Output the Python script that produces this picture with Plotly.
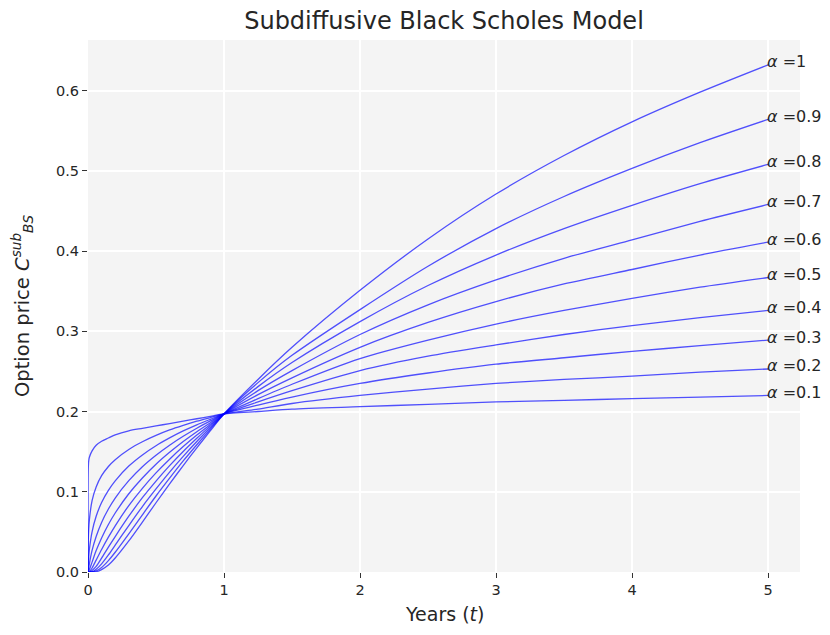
import plotly.graph_objects as go

# Years (t)
t = [0, 0.0005, 0.002, 0.005, 0.01, 0.03, 0.06, 0.1, 0.15, 0.2, 0.3, 0.4, 0.5, 0.6,
     0.7, 0.8, 0.9, 1.0, 1.25, 1.5, 2.0, 2.5, 3.0, 3.5, 4.0, 4.5, 5.0]

alpha_labels = ["1", "0.9", "0.8", "0.7", "0.6", "0.5", "0.4", "0.3", "0.2", "0.1"]

price_a10 = [0, 0, 0, 0, 0, 0, 0.0002, 0.003, 0.0087, 0.0174, 0.0387, 0.0622, 0.0863, 0.1097,
             0.1327, 0.1548, 0.1761, 0.197, 0.240, 0.280, 0.351, 0.415, 0.471, 0.519, 0.561, 0.598, 0.632]
price_a09 = [0, 0, 0, 0, 0, 0.0001, 0.0014, 0.0056, 0.0142, 0.0246, 0.0476, 0.0713, 0.0947, 0.1169,
             0.1384, 0.1586, 0.1781, 0.197, 0.236, 0.270, 0.327, 0.381, 0.428, 0.468, 0.503, 0.535, 0.564]
price_a08 = [0, 0, 0, 0, 0, 0.0002, 0.0034, 0.0102, 0.0213, 0.0335, 0.0579, 0.0816, 0.1035, 0.1245,
             0.1441, 0.1626, 0.18, 0.197, 0.231, 0.261, 0.312, 0.357, 0.395, 0.428, 0.457, 0.484, 0.508]
price_a07 = [0, 0, 0, 0, 0, 0.002, 0.007, 0.0173, 0.031, 0.0442, 0.0695, 0.0926, 0.1133, 0.1325,
             0.1502, 0.1666, 0.1821, 0.197, 0.226, 0.251, 0.296, 0.333, 0.364, 0.391, 0.414, 0.437, 0.458]
price_a06 = [0, 0, 0, 0.0001, 0.0003, 0.005, 0.0148, 0.028, 0.0434, 0.0576, 0.0828, 0.1043, 0.1235, 0.1406,
             0.1563, 0.1707, 0.184, 0.197, 0.221, 0.242, 0.280, 0.311, 0.337, 0.359, 0.377, 0.395, 0.411]
price_a05 = [0, 0, 0.0003, 0.0011, 0.0028, 0.0123, 0.0267, 0.0425, 0.0592, 0.0735, 0.0975, 0.1172, 0.1343, 0.1491,
             0.1626, 0.1749, 0.1861, 0.197, 0.216, 0.234, 0.266, 0.289, 0.309, 0.326, 0.341, 0.355, 0.367]
price_a04 = [0, 0.0001, 0.002, 0.0049, 0.0102, 0.0269, 0.0443, 0.0618, 0.0785, 0.0922, 0.1138, 0.1312, 0.1455, 0.158,
             0.1691, 0.1791, 0.1883, 0.197, 0.212, 0.226, 0.251, 0.269, 0.283, 0.296, 0.307, 0.317, 0.326]
price_a03 = [0, 0.003, 0.0095, 0.0182, 0.028, 0.0501, 0.0694, 0.0866, 0.1017, 0.1136, 0.132, 0.1459, 0.1574, 0.1671,
             0.1758, 0.1834, 0.1903, 0.197, 0.208, 0.218, 0.235, 0.248, 0.259, 0.267, 0.275, 0.282, 0.289]
price_a02 = [0, 0.023, 0.039, 0.053, 0.065, 0.089, 0.106, 0.120, 0.1315, 0.140, 0.1527, 0.1623, 0.1702, 0.177,
             0.1827, 0.1879, 0.1925, 0.197, 0.203, 0.210, 0.220, 0.228, 0.235, 0.240, 0.244, 0.249, 0.253]
price_a01 = [0, 0.10, 0.128, 0.138, 0.143, 0.151, 0.158, 0.163, 0.167, 0.171, 0.176, 0.179, 0.182, 0.185,
             0.188, 0.191, 0.194, 0.197, 0.200, 0.203, 0.206, 0.209, 0.212, 0.214, 0.216, 0.218, 0.220]

series = [price_a10, price_a09, price_a08, price_a07, price_a06,
          price_a05, price_a04, price_a03, price_a02, price_a01]

x_ticks = [0, 1, 2, 3, 4, 5]
y_ticks = [0.0, 0.1, 0.2, 0.3, 0.4, 0.5, 0.6]

FONT = "DejaVu Sans"
TXT = "#262626"

fig = go.Figure()
annotations = []
for lab, ys in zip(alpha_labels, series):
    fig.add_trace(go.Scatter(
        x=t, y=ys, mode="lines",
        line=dict(color="rgba(0,0,255,0.68)", width=1.3, shape="spline", smoothing=0.7),
        showlegend=False, hoverinfo="skip",
    ))
    annotations.append(dict(
        x=t[-1], y=ys[-1], xref="x", yref="y",
        text="<i>α</i> =" + lab, showarrow=False,
        xanchor="left", yanchor="middle", xshift=-3, yshift=3,
        font=dict(family=FONT, size=16, color=TXT),
    ))

annotations.append(dict(
    x=0.5, y=0, xref="paper", yref="paper", text="Years (<i>t</i>)",
    showarrow=False, xanchor="center", yanchor="middle", yshift=-42,
    font=dict(family=FONT, size=19, color=TXT),
))
annotations.append(dict(
    x=0, y=0.5, xref="paper", yref="paper",
    text="Option price <i>C</i><sup><i>sub</i></sup><sub><i>BS</i></sub>",
    showarrow=False, textangle=-90, xanchor="center", yanchor="middle",
    xshift=-66, yshift=0,
    font=dict(family=FONT, size=19.5, color=TXT),
))

fig.update_layout(
    width=822, height=619,
    margin=dict(l=80, r=30, t=32, b=55),
    paper_bgcolor="white",
    plot_bgcolor="#f4f4f4",
    title=dict(text="Subdiffusive Black Scholes Model", xref="paper", x=0.5, xanchor="center",
               yref="container", y=0.979, yanchor="middle",
               font=dict(family=FONT, size=24, color=TXT)),
    annotations=annotations,
    font=dict(family=FONT, color=TXT),
)
fig.update_xaxes(
    range=[0, 5.235], tickvals=x_ticks, ticktext=[str(v) for v in x_ticks],
    showgrid=True, gridcolor="white", gridwidth=1.5, zeroline=False,
    showline=False, ticks="outside", ticklen=5, tickcolor="#333333", tickwidth=1,
    tickfont=dict(family=FONT, size=14.5, color=TXT),
)
fig.update_yaxes(
    range=[0, 0.663], tickvals=y_ticks, ticktext=["%.1f" % v for v in y_ticks],
    showgrid=True, gridcolor="white", gridwidth=1.5, zeroline=False,
    showline=False, ticks="outside", ticklen=5, tickcolor="#333333", tickwidth=1,
    tickfont=dict(family=FONT, size=14.5, color=TXT),
)

fig.write_html("out.html")
